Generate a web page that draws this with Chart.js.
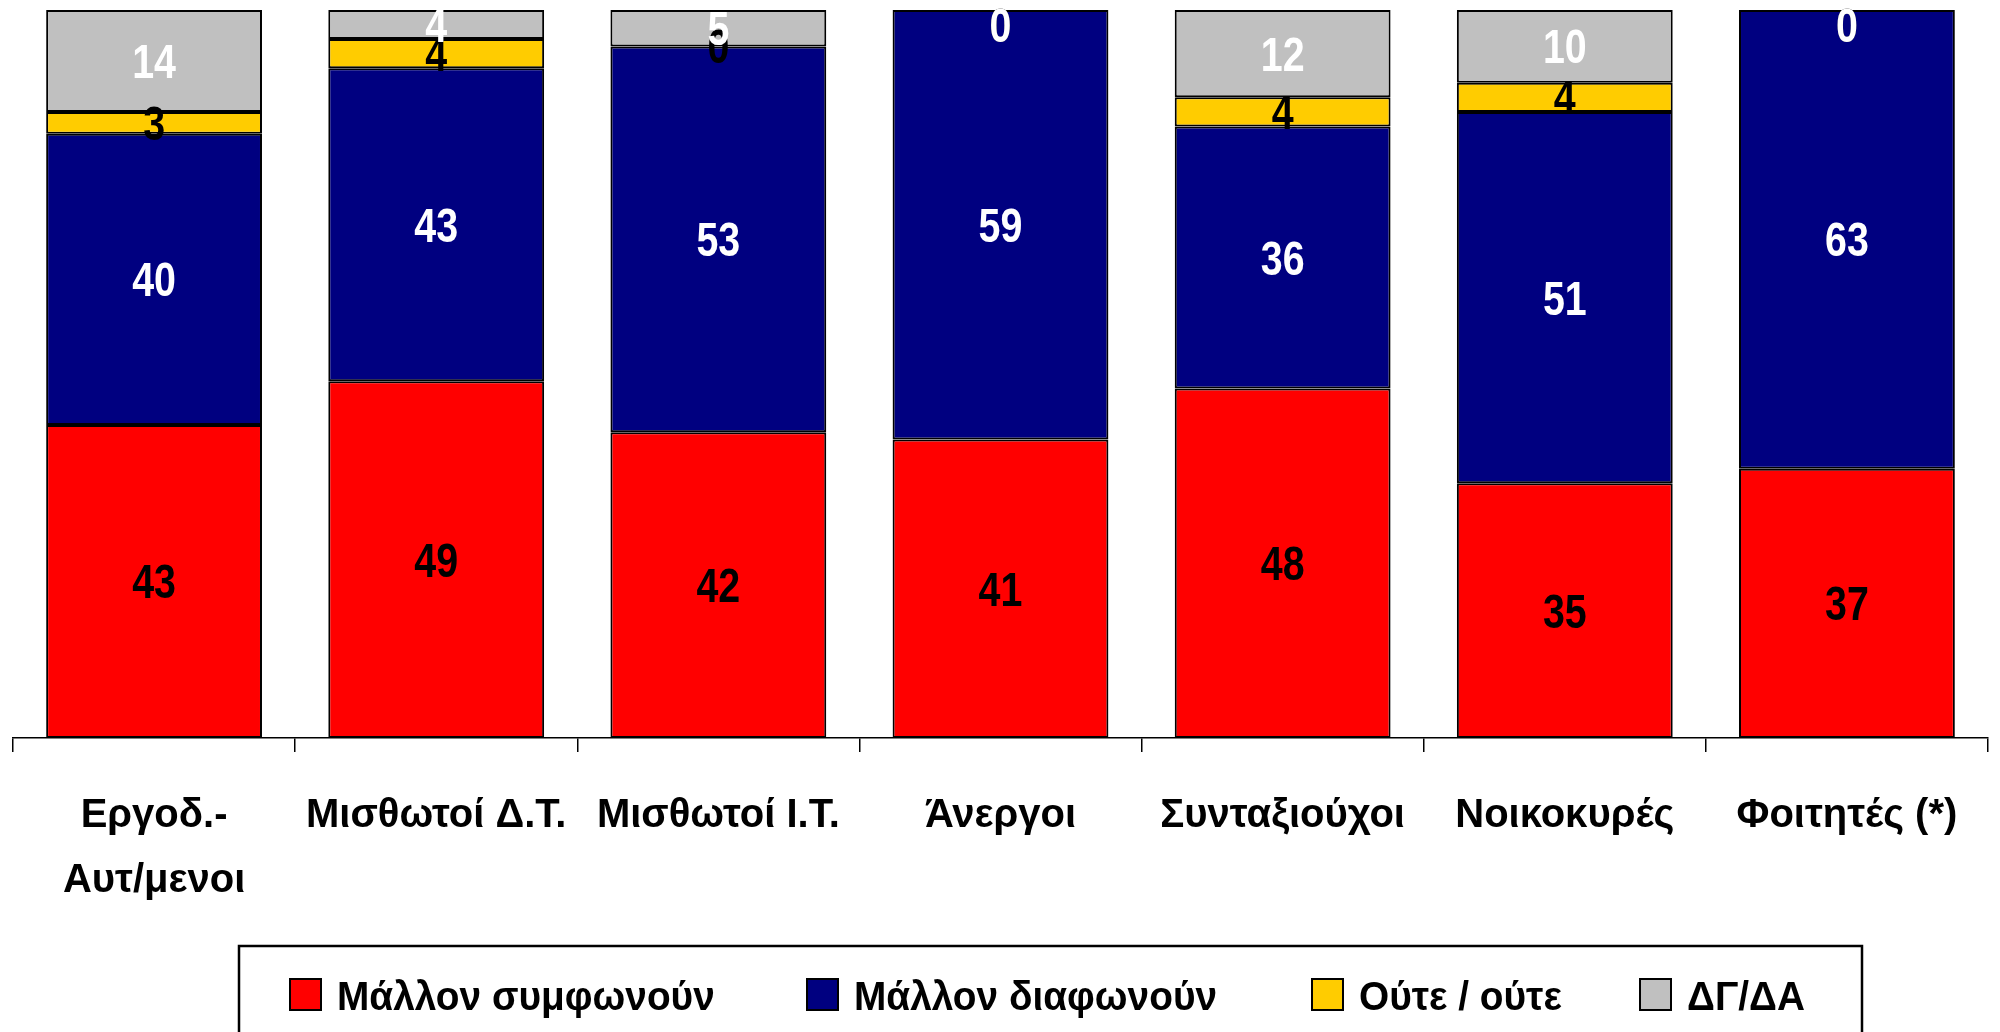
<!DOCTYPE html>
<html>
<head>
<meta charset="utf-8">
<script src="https://cdn.jsdelivr.net/npm/chart.js@4.4.1/dist/chart.umd.min.js"></script>
<style>
html,body{margin:0;padding:0;background:#fff;overflow:hidden}
#wrap{width:2000px;height:1032px;position:relative}
</style>
</head>
<body>
<div id="wrap"><canvas id="chartOmades"></canvas></div>
<script>
// ==========================
// DATA
// ==========================
const omades = [["Εργοδ.-", "Αυτ/μενοι"], "Μισθωτοί Δ.Τ.", "Μισθωτοί Ι.Τ.", "Άνεργοι", "Συνταξιούχοι", "Νοικοκυρές", "Φοιτητές (*)"];
const seires = ["Μάλλον συμφωνούν", "Μάλλον διαφωνούν", "Ούτε / ούτε", "ΔΓ/ΔΑ"];
const symfonoun = [43, 49, 42, 41, 48, 35, 37];
const diafonoun = [40, 43, 53, 59, 36, 51, 63];
const oute = [3, 4, 0, 0, 4, 4, 0];
const dgda = [14, 4, 5, 0, 12, 10, 0];

const grammata = "'Liberation Sans', Arial, sans-serif";

// ==========================
// LABELS INSIDE BARS (narrow digits)
// ==========================
const etiketes = {
    id: "etiketes",
    afterDatasetsDraw(chart) {
        const ctx = chart.ctx;
        const top = chart.chartArea.top;
        ctx.save();
        ctx.font = "bold 48px " + grammata;
        ctx.textAlign = "center";
        ctx.textBaseline = "alphabetic";
        chart.data.datasets.forEach((ds, i) => {
            chart.getDatasetMeta(i).data.forEach((bar, j) => {
                const kentro = Math.max((bar.y + bar.base) / 2, top + 15);
                ctx.save();
                ctx.translate(bar.x, kentro + 17);
                ctx.scale(0.82, 1);
                ctx.fillStyle = ds.labelColor;
                ctx.fillText(ds.data[j], 0, 0);
                ctx.restore();
            });
        });
        ctx.restore();
    }
};

// ==========================
// LEGEND BOX
// ==========================
const ypomnima = {
    id: "ypomnima",
    afterDraw(chart) {
        const ctx = chart.ctx;
        const thesi = [290, 807, 1312, 1640];
        ctx.save();
        ctx.strokeStyle = "#000";
        ctx.lineWidth = 2.5;
        ctx.strokeRect(239, 946, 1623, 120);
        ctx.font = "bold 40px " + grammata;
        ctx.textBaseline = "alphabetic";
        ctx.textAlign = "left";
        chart.data.datasets.forEach((ds, i) => {
            const x = thesi[i];
            ctx.fillStyle = ds.backgroundColor;
            ctx.fillRect(x, 979, 31, 31);
            ctx.lineWidth = 2;
            ctx.strokeRect(x, 979, 31, 31);
            ctx.save();
            ctx.translate(x + 47, 1010);
            ctx.scale(0.97, 1);
            ctx.fillStyle = "#000";
            ctx.fillText(ds.label, 0, 0);
            ctx.restore();
        });
        ctx.restore();
    }
};

new Chart(document.getElementById("chartOmades"), {
    type: "bar",
    data: {
        labels: omades,
        datasets: [
            { label: seires[0], data: symfonoun, backgroundColor: "#FF0000", labelColor: "#000" },
            { label: seires[1], data: diafonoun, backgroundColor: "#000080", labelColor: "#fff" },
            { label: seires[2], data: oute, backgroundColor: "#FFCC00", labelColor: "#000" },
            { label: seires[3], data: dgda, backgroundColor: "#C0C0C0", labelColor: "#fff" }
        ].map(d => Object.assign(d, {
            borderColor: "#000",
            borderWidth: 2,
            borderSkipped: false,
            categoryPercentage: 1,
            barPercentage: 0.765
        }))
    },
    options: {
        responsive: true,
        maintainAspectRatio: false,
        animation: false,
        layout: { padding: { top: 10, left: 13, right: 12, bottom: 94 } },
        plugins: {
            legend: { display: false },
            tooltip: { enabled: false }
        },
        scales: {
            x: {
                stacked: true,
                grid: {
                    offset: true,
                    drawOnChartArea: false,
                    color: "#000",
                    lineWidth: 1.5,
                    tickLength: 14
                },
                border: { color: "#000", width: 1.5 },
                ticks: {
                    color: "#000",
                    padding: 32,
                    maxRotation: 0,
                    autoSkip: false,
                    font: { family: grammata, size: 40, weight: "bold", lineHeight: 1.62 }
                },
                afterFit(scale) { scale.height = 200; }
            },
            y: {
                stacked: true,
                display: false,
                min: 0,
                max: 100
            }
        }
    },
    plugins: [etiketes, ypomnima]
});
</script>
</body>
</html>
